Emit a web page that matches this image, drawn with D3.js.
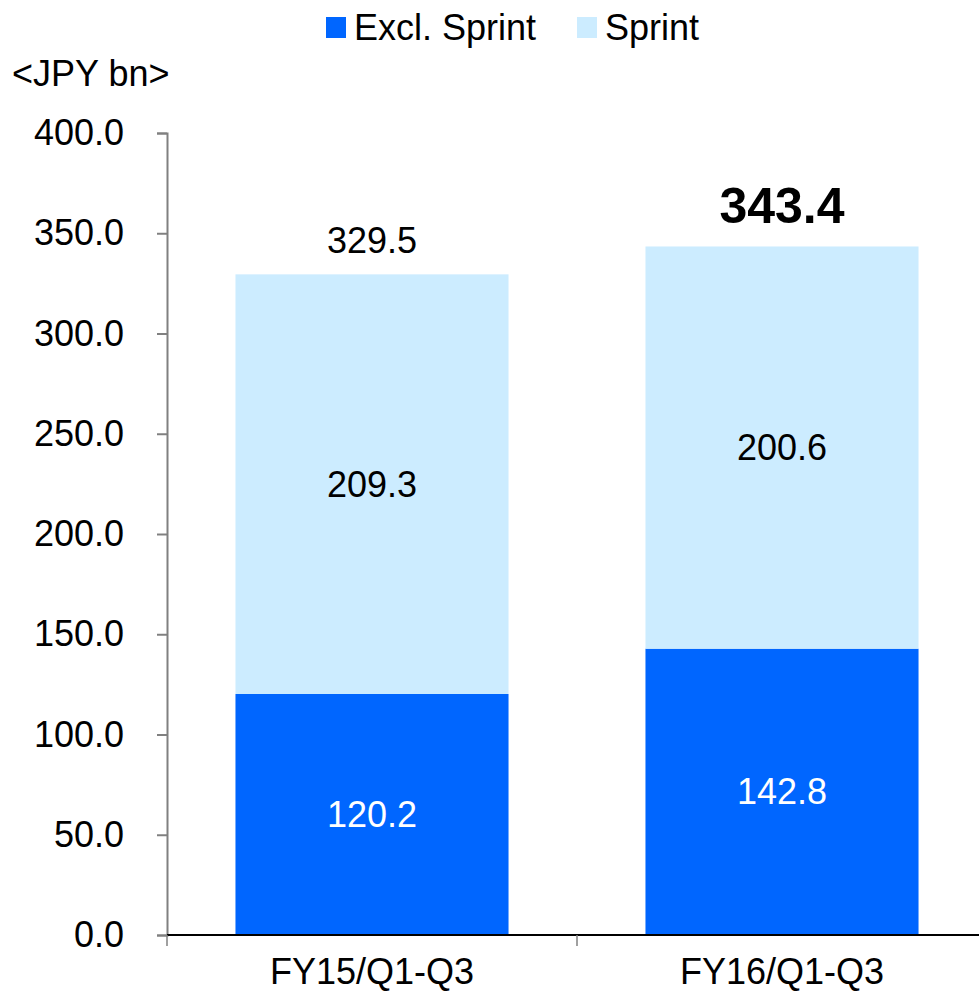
<!DOCTYPE html>
<html>
<head>
<meta charset="utf-8">
<script src="https://cdn.jsdelivr.net/npm/d3@7"></script>
<style>
  body { margin: 0; background: #fff; }
  text { font-family: "Liberation Sans", Arial, sans-serif; }
</style>
</head>
<body>
<svg id="chart" width="979" height="995"></svg>
<script>
const categories = ["FY15/Q1-Q3", "FY16/Q1-Q3"];
const seriesNames = ["Excl. Sprint", "Sprint"];
const exclSprint = [120.2, 142.8];
const sprint = [209.3, 200.6];
const totals = [329.5, 343.4];
const yTicks = [0, 50, 100, 150, 200, 250, 300, 350, 400];
const unitLabel = "<JPY bn>";
const colors = ["#0066FF", "#CCECFF"];

const svg = d3.select("#chart");
const x = d3.scaleBand().domain(categories).range([167, 987]).paddingInner(0.334).paddingOuter(0.167);
const y = d3.scaleLinear().domain([0, 400]).range([935, 133]);

const rows = categories.map((c, i) => ({ cat: c, "Excl. Sprint": exclSprint[i], "Sprint": sprint[i], total: totals[i] }));
const stacked = d3.stack().keys(seriesNames)(rows);

// bars
stacked.forEach((layer, li) => {
  svg.append("g").selectAll("rect").data(layer).join("rect")
    .attr("x", d => x(d.data.cat))
    .attr("width", x.bandwidth())
    .attr("y", d => y(d[1]))
    .attr("height", d => y(d[0]) - y(d[1]))
    .attr("fill", colors[li]);
  svg.append("g").selectAll("text").data(layer).join("text")
    .attr("x", d => x(d.data.cat) + x.bandwidth() / 2)
    .attr("y", d => (y(d[0]) + y(d[1])) / 2)
    .attr("dy", "0.35em")
    .attr("text-anchor", "middle")
    .attr("font-size", 36)
    .attr("fill", li === 0 ? "#fff" : "#000")
    .text(d => (d[1] - d[0]).toFixed(1));
});

// totals
svg.append("g").selectAll("text").data(rows).join("text")
  .attr("x", d => x(d.cat) + x.bandwidth() / 2)
  .attr("y", (d, i) => y(d.total) - (i === 1 ? 23 : 21))
  .attr("text-anchor", "middle")
  .attr("font-size", (d, i) => i === 1 ? 50 : 36)
  .attr("font-weight", (d, i) => i === 1 ? "bold" : "normal")
  .attr("fill", "#000")
  .text(d => d.total.toFixed(1));

// y axis
const yAxis = svg.append("g").attr("transform", "translate(167,0)")
  .call(d3.axisLeft(y).tickValues(yTicks).tickSize(10).tickPadding(33).tickFormat(d => d.toFixed(1)));
yAxis.select(".domain").attr("stroke", "#808080").attr("stroke-width", 2);
yAxis.selectAll(".tick line").attr("stroke", "#808080").attr("stroke-width", 2);
yAxis.selectAll(".tick text").attr("font-size", 36).attr("fill", "#000")
  .attr("font-family", "'Liberation Sans', Arial, sans-serif");

// x axis
const xAxis = svg.append("g").attr("transform", "translate(0,935)")
  .call(d3.axisBottom(x).tickSize(0).tickPadding(23));
xAxis.select(".domain").remove();
xAxis.selectAll(".tick text").attr("font-size", 36).attr("fill", "#000")
  .attr("font-family", "'Liberation Sans', Arial, sans-serif");
svg.append("line").attr("x1", 167).attr("x2", 979).attr("y1", 935).attr("y2", 935)
  .attr("stroke", "#000").attr("stroke-width", 2);
const boundaries = [x.range()[0], (x(categories[0]) + x.bandwidth() + x(categories[1])) / 2];
svg.append("g").selectAll("line").data(boundaries).join("line")
  .attr("x1", d => d).attr("x2", d => d).attr("y1", 935).attr("y2", 946)
  .attr("stroke", "#808080").attr("stroke-width", 1.5);

// unit label
svg.append("text").attr("x", 12).attr("y", 86).attr("font-size", 36).attr("fill", "#000").text(unitLabel);

// legend
const legendItems = [{ name: seriesNames[0], color: colors[0], x: 326, tx: 354 }, { name: seriesNames[1], color: colors[1], x: 577, tx: 605 }];
const lg = svg.append("g");
legendItems.forEach(it => {
  lg.append("rect").attr("x", it.x).attr("y", 17).attr("width", 20).attr("height", 21).attr("fill", it.color);
  lg.append("text").attr("x", it.tx).attr("y", 40).attr("font-size", 36).attr("fill", "#000").text(it.name);
});
</script>
</body>
</html>
